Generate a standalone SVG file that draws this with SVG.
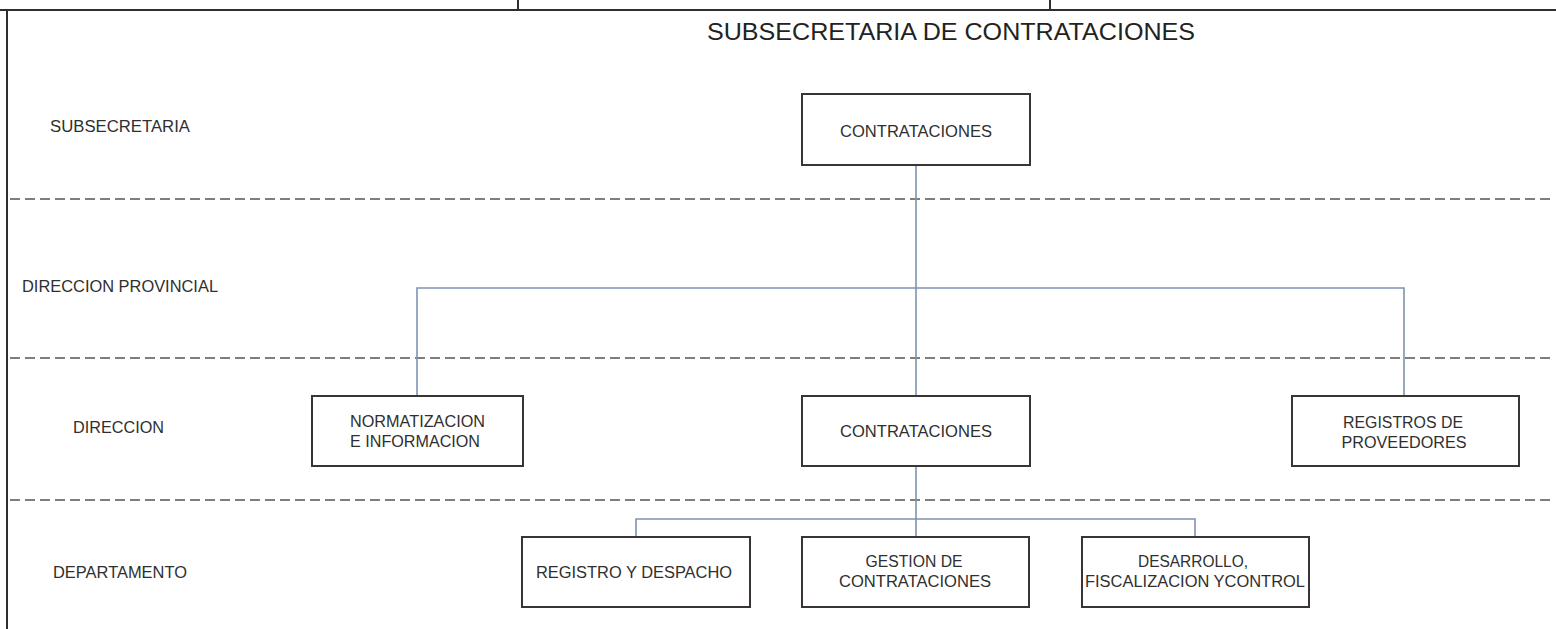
<svg xmlns="http://www.w3.org/2000/svg" width="1556" height="629" viewBox="0 0 1556 629">
<style>
.frame{stroke:#2e2e2e;stroke-width:2;fill:none}
.dash{stroke:#857b78;stroke-width:2;stroke-dasharray:10 5;fill:none}
.box{fill:#ffffff;stroke:#3b3434;stroke-width:2}
.con{stroke:#7d93b2;stroke-width:1.6;fill:none}
text{font-family:"Liberation Sans",Arial,sans-serif;font-size:16px;fill:#2f2f2f}
.title{font-size:23px;fill:#222}
</style>
<rect width="1556" height="629" fill="#ffffff"/>
<g id="frame">
<line class="frame" x1="0" y1="10" x2="1556" y2="10"/>
<line class="frame" x1="7" y1="10" x2="7" y2="629"/>
<line class="frame" x1="518" y1="0" x2="518" y2="10"/>
<line class="frame" x1="1050" y1="0" x2="1050" y2="10"/>
</g>
<g id="levels">
<line class="dash" x1="10" y1="199" x2="1550" y2="199"/>
<line class="dash" x1="10" y1="358" x2="1550" y2="358"/>
<line class="dash" x1="10" y1="500" x2="1550" y2="500"/>
</g>
<text class="title" x="707" y="40" textLength="488" lengthAdjust="spacingAndGlyphs">SUBSECRETARIA DE CONTRATACIONES</text>
<g id="level-labels">
<text x="50" y="132" textLength="140" lengthAdjust="spacingAndGlyphs">SUBSECRETARIA</text>
<text x="22" y="292" textLength="196" lengthAdjust="spacingAndGlyphs">DIRECCION PROVINCIAL</text>
<text x="73" y="433" textLength="91" lengthAdjust="spacingAndGlyphs">DIRECCION</text>
<text x="53" y="578" textLength="134" lengthAdjust="spacingAndGlyphs">DEPARTAMENTO</text>
</g>
<g id="connectors">
<line class="con" x1="916" y1="165" x2="916" y2="396"/>
<polyline class="con" points="417,396 417,288 1404,288 1404,396"/>
<line class="con" x1="916" y1="466" x2="916" y2="537"/>
<polyline class="con" points="636,537 636,519 1195,519 1195,537"/>
</g>
<g id="n-sub-contrataciones">
<rect class="box" x="802" y="94" width="228" height="71"/>
<text x="916" y="137" text-anchor="middle" textLength="152" lengthAdjust="spacingAndGlyphs">CONTRATACIONES</text>
</g>
<g id="n-normatizacion">
<rect class="box" x="312" y="396" width="211" height="70"/>
<text x="350" y="427" textLength="135" lengthAdjust="spacingAndGlyphs">NORMATIZACION</text>
<text x="350" y="447" textLength="130" lengthAdjust="spacingAndGlyphs">E INFORMACION</text>
</g>
<g id="n-dir-contrataciones">
<rect class="box" x="802" y="396" width="228" height="70"/>
<text x="916" y="437" text-anchor="middle" textLength="152" lengthAdjust="spacingAndGlyphs">CONTRATACIONES</text>
</g>
<g id="n-registros-proveedores">
<rect class="box" x="1292" y="396" width="227" height="70"/>
<text x="1403" y="428" text-anchor="middle" textLength="120" lengthAdjust="spacingAndGlyphs">REGISTROS DE</text>
<text x="1404" y="448" text-anchor="middle" textLength="125" lengthAdjust="spacingAndGlyphs">PROVEEDORES</text>
</g>
<g id="n-registro-despacho">
<rect class="box" x="522" y="537" width="228" height="70"/>
<text x="634" y="578" text-anchor="middle" textLength="196" lengthAdjust="spacingAndGlyphs">REGISTRO Y DESPACHO</text>
</g>
<g id="n-gestion">
<rect class="box" x="802" y="537" width="227" height="70"/>
<text x="914" y="567" text-anchor="middle" textLength="97" lengthAdjust="spacingAndGlyphs">GESTION DE</text>
<text x="915" y="587" text-anchor="middle" textLength="152" lengthAdjust="spacingAndGlyphs">CONTRATACIONES</text>
</g>
<g id="n-desarrollo">
<rect class="box" x="1082" y="537" width="227" height="70"/>
<text x="1193" y="567" text-anchor="middle" textLength="110" lengthAdjust="spacingAndGlyphs">DESARROLLO,</text>
<text x="1195" y="587" text-anchor="middle" textLength="220" lengthAdjust="spacingAndGlyphs">FISCALIZACION YCONTROL</text>
</g>
</svg>
